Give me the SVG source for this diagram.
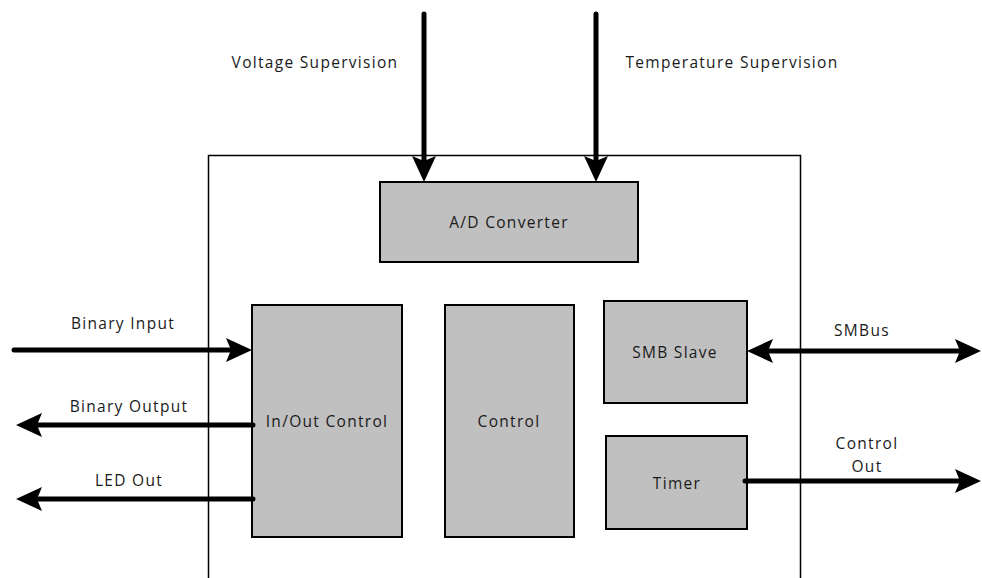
<svg xmlns="http://www.w3.org/2000/svg" width="982" height="578" viewBox="0 0 982 578">
<style>
.blk{fill:#c0c0c0;stroke:#000;stroke-width:2}
.t{font-family:"Open Sans","Liberation Sans",sans-serif;font-size:15.5px;fill:#1a1a1a;text-anchor:middle;letter-spacing:1.3px}
.w{stroke:#000;stroke-width:5;fill:none;stroke-linecap:round}
</style>
<defs>
<marker id="ah" viewBox="0 0 26 26" refX="10" refY="13" markerWidth="26" markerHeight="26" markerUnits="userSpaceOnUse" orient="auto-start-reverse">
<path d="M0,1 L26,13 L0,25 L5,13 z" fill="#000"/>
</marker>
</defs>
<rect width="982" height="578" fill="#fff"/>
<path id="outer" d="M208.5,578 V155.5 H800.5 V578" fill="none" stroke="#000" stroke-width="1.5"/>
<g id="ad"><rect class="blk" x="380" y="182" width="258" height="80"/><text class="t" x="509" y="228">A/D Converter</text></g>
<g id="io"><rect class="blk" x="252" y="305" width="150" height="232"/><text class="t" x="327" y="427">In/Out Control</text></g>
<g id="ctl"><rect class="blk" x="445" y="305" width="129" height="232"/><text class="t" x="509" y="427">Control</text></g>
<g id="smb"><rect class="blk" x="604" y="301" width="143" height="102"/><text class="t" x="675" y="358">SMB Slave</text></g>
<g id="tmr"><rect class="blk" x="606" y="436" width="141" height="93"/><text class="t" x="677" y="489">Timer</text></g>
<g id="connectors">
<line class="w" x1="424" y1="14" x2="424" y2="166" marker-end="url(#ah)"/>
<line class="w" x1="596" y1="14" x2="596" y2="166" marker-end="url(#ah)"/>
<line class="w" x1="14" y1="350" x2="236" y2="350" marker-end="url(#ah)"/>
<line class="w" x1="253" y1="425" x2="32" y2="425" marker-end="url(#ah)"/>
<line class="w" x1="253" y1="499" x2="32" y2="499" marker-end="url(#ah)"/>
<line class="w" x1="763" y1="351" x2="965" y2="351" marker-start="url(#ah)" marker-end="url(#ah)"/>
<line class="w" x1="745" y1="481" x2="965" y2="481" marker-end="url(#ah)"/>
</g>
<g id="labels">
<text class="t" x="315" y="68">Voltage Supervision</text>
<text class="t" x="732" y="68">Temperature Supervision</text>
<text class="t" x="123" y="329">Binary Input</text>
<text class="t" x="129" y="412">Binary Output</text>
<text class="t" x="129" y="486">LED Out</text>
<text class="t" x="862" y="336">SMBus</text>
<text class="t" x="867" y="449">Control</text>
<text class="t" x="867" y="472">Out</text>
</g>
</svg>
